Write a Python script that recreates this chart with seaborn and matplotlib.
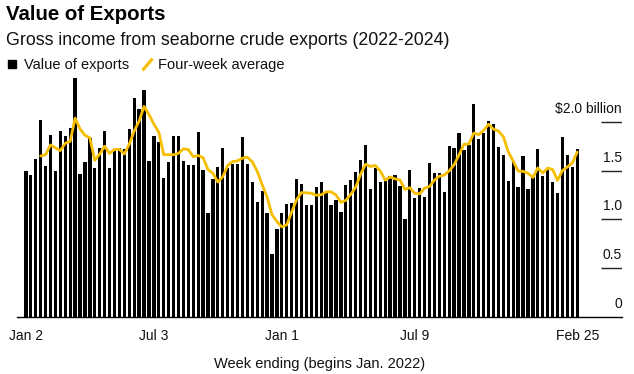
import numpy as np
import pandas as pd
import seaborn as sns
import matplotlib.pyplot as plt
from matplotlib.lines import Line2D

# weekly value of seaborne crude exports, $ billion
export_value = [
    1.50, 1.46, 1.62, 2.02, 1.55, 1.86, 1.50, 1.91, 1.85, 1.94,
    2.45, 1.47, 1.59, 1.83, 1.53, 1.73, 1.91, 1.53, 1.70, 1.73,
    1.72, 1.93, 2.24, 2.13, 2.33, 1.60, 1.85, 1.79, 1.42, 1.59,
    1.85, 1.85, 1.60, 1.56, 1.56, 1.90, 1.51, 1.07, 1.41, 1.54,
    1.73, 1.53, 1.57, 1.57, 1.84, 1.57, 1.38, 1.18, 1.29, 1.07,
    0.65, 0.90, 1.07, 1.16, 1.17, 1.41, 1.36, 1.15, 1.15, 1.33,
    1.38, 1.27, 1.15, 1.20, 1.08, 1.35, 1.40, 1.49, 1.61, 1.76,
    1.31, 1.53, 1.38, 1.39, 1.44, 1.45, 1.34, 1.00, 1.51, 1.22,
    1.32, 1.23, 1.58, 1.48, 1.48, 1.28, 1.75, 1.73, 1.89, 1.71,
    1.76, 2.18, 1.82, 1.89, 2.01, 1.98, 1.74, 1.66, 1.39, 1.60,
    1.33, 1.65, 1.31, 1.43, 1.72, 1.44, 1.51, 1.38, 1.27, 1.84,
    1.66, 1.54, 1.72,
]
first_week = "2022-01-02"
tick_dates = ["2022-01-02", "2022-07-03", "2023-01-01", "2023-07-09", "2024-02-25"]
tick_labels = ["Jan 2", "Jul 3", "Jan 1", "Jul 9", "Feb 25"]
ytick_values = [0, 0.5, 1.0, 1.5, 2.0]
ytick_labels = ["0", "0.5", "1.0", "1.5", r"\$2.0 billion"]

YELLOW = "#F6BE00"
INK = "#111111"

# %%
weeks = pd.date_range(first_week, periods=len(export_value), freq="W-SUN")
df = pd.DataFrame({"week": weeks, "value": export_value})
df["pos"] = np.arange(len(df))
# four-week average of the weekly values
df["avg4"] = df["value"].rolling(4).mean()

sns.set_style("white")
plt.rcParams["font.family"] = ["Liberation Sans", "DejaVu Sans"]
plt.rcParams["text.color"] = INK

fig = plt.figure(figsize=(6.34, 3.74), dpi=100)
ax = fig.add_axes([17 / 634, 57 / 374, 605 / 634, 244 / 374])

sns.barplot(data=df, x="pos", y="value", color="black", saturation=1,
            width=0.67, linewidth=0, errorbar=None, ax=ax)
sns.lineplot(data=df, x="pos", y="avg4", color=YELLOW, linewidth=2.0, ax=ax)

ax.set_xlim(-1.8, 121.1)
ax.set_ylim(0, 2.5)

# x ticks at the labelled weeks
tick_pos = [int(np.where(weeks == pd.Timestamp(d))[0][0]) for d in tick_dates]
ax.set_xticks(tick_pos, tick_labels)
ax.tick_params(axis="x", length=4.5, width=1, color="black", pad=4,
               labelsize=10, labelcolor=INK)
ax.set_yticks([])
ax.set_ylabel("")
ax.set_xlabel("Week ending (begins Jan. 2022)", fontsize=10.5, labelpad=10, color=INK)

sns.despine(ax=ax, left=True)
ax.spines["bottom"].set_color("black")
ax.spines["bottom"].set_linewidth(1)

# short value rules on the right, labels sitting on top of them
ax.hlines(ytick_values[1:], 0.966, 1.0, transform=ax.get_yaxis_transform(),
          color="#222222", linewidth=1)
for v, lab in zip(ytick_values, ytick_labels):
    ax.annotate(lab, xy=(1, v), xycoords=ax.get_yaxis_transform(),
                xytext=(0, 6.5), textcoords="offset points",
                ha="right", va="baseline", fontsize=10, color=INK)

# title block
fig.text(6 / 634, 1 - 20 / 374, "Value of Exports", fontsize=14.7,
         fontweight="bold", va="baseline", color="black")
fig.text(6 / 634, 1 - 45 / 374, "Gross income from seaborne crude exports (2022-2024)",
         fontsize=12.8, va="baseline", color=INK)

handles = [
    Line2D([], [], linestyle="none", marker="s", markersize=6, color="black"),
    Line2D([], [], linestyle="none", marker=[(-0.85, -1), (0.85, 1)], markersize=8.5,
           markeredgecolor=YELLOW, markerfacecolor="none", markeredgewidth=2.2),
]
fig.legend(handles, ["Value of exports", "Four-week average"], loc="center left",
           bbox_to_anchor=(5 / 634, 1 - 65 / 374), ncol=2, frameon=False,
           fontsize=10.5, handlelength=1.0, handletextpad=0.3, columnspacing=0.7,
           borderaxespad=0, borderpad=0)

fig.savefig("out.png", dpi=100)
